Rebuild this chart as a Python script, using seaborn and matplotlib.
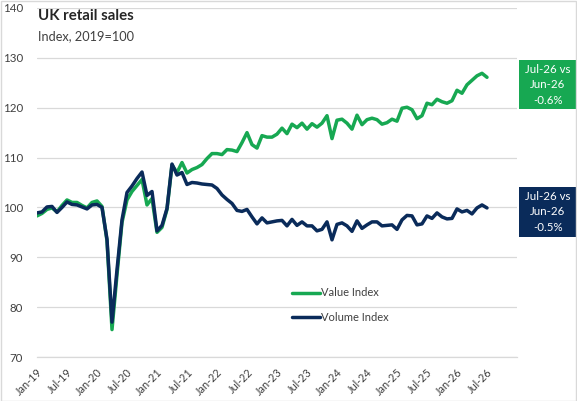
"""UK retail sales: value and volume index, 2019=100"""

import matplotlib

matplotlib.use("Agg")
import matplotlib.pyplot as plt
import numpy as np
import pandas as pd
import seaborn as sns
from matplotlib.patches import Rectangle

# monthly, Jan-19 .. Jul-26
value_index = [
    98.3, 98.8, 99.6, 99.9, 99.1, 100.4, 101.5, 101.0, 101.0, 100.4, 99.9, 101.0,
    101.3, 100.2, 93.3, 75.5, 86.5, 97.0, 101.5, 103.2, 104.4, 105.6, 100.5, 101.8,
    95.0, 96.0, 99.6, 108.5, 107.0, 109.0, 106.9, 107.6, 108.0, 108.6, 109.8, 110.8,
    110.8, 110.6, 111.6, 111.5, 111.2, 113.0, 115.0, 112.6, 111.9, 114.4, 114.1, 114.1,
    114.7, 115.9, 114.8, 116.7, 116.0, 116.9, 115.7, 116.8, 116.1, 116.9, 118.4, 113.8,
    117.5, 117.7, 116.9, 115.7, 118.5, 116.6, 117.6, 117.9, 117.6, 116.7, 117.0, 117.7,
    117.3, 119.9, 120.1, 119.6, 117.8, 118.4, 120.9, 120.6, 121.7, 121.2, 120.9, 121.4,
    123.5, 122.9, 124.6, 125.5, 126.4, 126.9, 126.1,
]
volume_index = [
    98.9, 99.1, 100.1, 100.2, 99.0, 100.0, 101.1, 100.6, 100.5, 100.1, 99.7, 100.5,
    100.6, 100.0, 93.6, 77.0, 87.5, 97.5, 103.0, 104.3, 105.8, 107.1, 102.4, 103.2,
    95.3, 96.4, 99.8, 108.7, 106.5, 107.0, 104.6, 105.0, 104.9, 104.7, 104.6, 104.5,
    103.8, 102.5, 101.6, 100.8, 99.4, 99.2, 99.6, 98.1, 96.7, 97.9, 96.9, 97.1,
    97.3, 97.4, 96.3, 97.6, 96.4, 97.1, 96.3, 96.3, 95.3, 95.6, 97.1, 93.5,
    96.6, 96.9, 96.3, 95.2, 97.3, 95.8, 96.5, 97.1, 97.1, 96.3, 96.4, 96.5,
    95.6, 97.5, 98.4, 98.3, 96.5, 96.7, 98.3, 97.8, 98.9, 98.1, 97.7, 97.8,
    99.7, 99.1, 99.4, 98.7, 99.9, 100.5, 99.9,
]
tick_labels = [
    "Jan-19", "Jul-19", "Jan-20", "Jul-20", "Jan-21", "Jul-21", "Jan-22", "Jul-22",
    "Jan-23", "Jul-23", "Jan-24", "Jul-24", "Jan-25", "Jul-25", "Jan-26", "Jul-26", "",
]
series_names = ["Value Index", "Volume Index"]
callouts = ["Jul-26 vs\nJun-26\n-0.6%", "Jul-26 vs\nJun-26\n-0.5%"]

GREEN = "#17A852"
NAVY = "#0A2B5A"
GRID = "#D9D9D9"
TXT = "#404040"

months = np.arange(len(value_index))
df = pd.concat(
    [
        pd.DataFrame({"month": months, "index": value_index, "series": series_names[0]}),
        pd.DataFrame({"month": months, "index": volume_index, "series": series_names[1]}),
    ]
)

sns.set_theme(style="white")
plt.rcParams["font.family"] = ["Lato", "DejaVu Sans"]

fig = plt.figure(figsize=(5.77, 4.01), dpi=100)
ax = fig.add_axes([37 / 577, 1 - 357 / 401, 480 / 577, 349 / 401])

sns.lineplot(
    data=df,
    x="month",
    y="index",
    hue="series",
    palette=[GREEN, NAVY],
    linewidth=2.5,
    ax=ax,
)

ax.set_xlim(0, 96)
ax.set_ylim(70, 140)
ax.set_yticks(range(70, 141, 10))
ax.set_xticks(range(0, 97, 6))
ax.set_xticklabels(tick_labels, rotation=45, ha="right", rotation_mode="anchor")
ax.set_xlabel("")
ax.set_ylabel("")
ax.grid(axis="y", color=GRID, linewidth=0.9)
ax.set_axisbelow(True)
for side in ["left", "right", "top"]:
    ax.spines[side].set_visible(False)
ax.spines["bottom"].set_color(GRID)
ax.spines["bottom"].set_linewidth(0.9)
ax.tick_params(axis="x", length=4, width=0.9, color=GRID, labelsize=7.8, labelcolor=TXT, pad=3)
ax.tick_params(axis="y", length=0, labelsize=8.3, labelcolor=TXT, pad=10)

handles, labels = ax.get_legend_handles_labels()
ax.legend(
    handles,
    labels,
    loc="center left",
    bbox_to_anchor=(0.51, 0.148),
    frameon=False,
    fontsize=8,
    handlelength=2.55,
    handletextpad=0.12,
    labelspacing=1.25,
    labelcolor=TXT,
)

fig.text(38 / 577, 1 - 16.5 / 401, "UK retail sales", fontsize=10.8, fontweight="bold",
         color="#262626", va="center")
fig.text(38 / 577, 1 - 36 / 401, "Index, 2019=100", fontsize=9.2, color=TXT, va="center")

# callout boxes on the right
for (top, bot), colour, label in zip([(60, 109.3), (186.7, 236.7)], [GREEN, NAVY], callouts):
    fig.add_artist(Rectangle((519 / 577, 1 - bot / 401), 58 / 577, (bot - top) / 401,
                             transform=fig.transFigure, facecolor=colour, edgecolor="none"))
    fig.text(548 / 577, 1 - (top + bot) / 2 / 401, label, color="white", fontsize=8.3,
             ha="center", va="center", linespacing=1.5)

fig.add_artist(Rectangle((0.5 / 577, 0.5 / 401), 575.5 / 577, 399.5 / 401, transform=fig.transFigure,
                         facecolor="none", edgecolor=GRID, linewidth=1))

fig.savefig("out.png", dpi=100)
plt.close(fig)
